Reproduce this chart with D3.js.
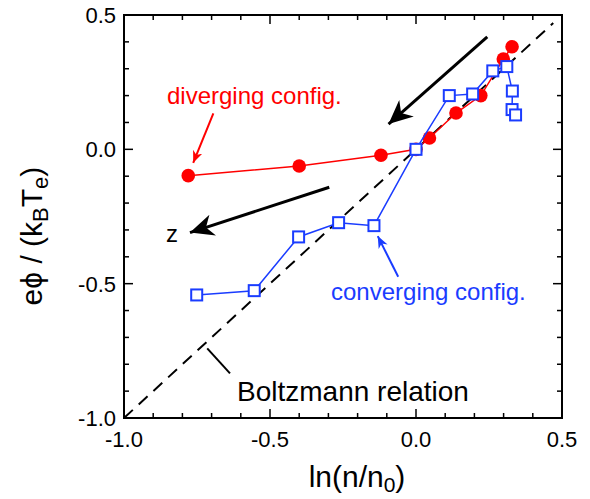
<!DOCTYPE html>
<html>
<head>
<meta charset="utf-8">
<script src="https://cdn.jsdelivr.net/npm/d3@7"></script>
<style>
  body { margin: 0; background: #fff; }
  svg text { font-family: "Liberation Sans", Arial, sans-serif; }
</style>
</head>
<body>
<script>
// diverging config. (red circles)
const divX = [-0.78, -0.40, -0.12, 0.0, 0.046, 0.137, 0.222, 0.299, 0.329];
const divY = [-0.098, -0.062, -0.022, 0.0, 0.042, 0.135, 0.200, 0.336, 0.382];
// converging config. (blue squares)
const convX = [-0.751, -0.554, -0.402, -0.265, -0.144, 0.0, 0.114, 0.194, 0.263, 0.311, 0.330, 0.329, 0.341];
const convY = [-0.542, -0.526, -0.326, -0.273, -0.284, 0.0, 0.200, 0.206, 0.292, 0.308, 0.217, 0.148, 0.128];
// Boltzmann relation, e*phi/kTe = ln(n/n0)
const boltzX = [-1.0, 0.47];
const xTicks = [-1.0, -0.5, 0.0, 0.5];
const yTicks = [-1.0, -0.5, 0.0, 0.5];

const width = 590, height = 499;
const margin = {top: 15, right: 28, bottom: 81, left: 124};

const svg = d3.select("body").append("svg")
  .attr("width", width)
  .attr("height", height);

const x = d3.scaleLinear().domain([-1.0, 0.5]).range([margin.left, width - margin.right]);
const y = d3.scaleLinear().domain([-1.0, 0.5]).range([height - margin.bottom, margin.top]);

// arrow heads
const defs = svg.append("defs");
function head(id, color, len, wid) {
  defs.append("marker")
    .attr("id", id)
    .attr("markerUnits", "userSpaceOnUse")
    .attr("viewBox", `0 ${-wid / 2} ${len} ${wid}`)
    .attr("refX", len).attr("refY", 0)
    .attr("markerWidth", len).attr("markerHeight", wid)
    .attr("orient", "auto")
    .append("path")
    .attr("d", `M0,${-wid / 2}L${len},0L0,${wid / 2}L${len * 0.3},0Z`)
    .attr("fill", color);
}
head("hk", "#000", 24, 22);
head("hr", "#f00", 12, 10);
head("hb", "#1a3cff", 12, 10);

// boltzmann dashed
svg.append("line")
  .attr("x1", x(boltzX[0])).attr("y1", y(boltzX[0]))
  .attr("x2", x(boltzX[1])).attr("y2", y(boltzX[1]))
  .attr("stroke", "#000").attr("stroke-width", 2)
  .attr("stroke-dasharray", "12,8");

// frame
svg.append("rect")
  .attr("x", margin.left).attr("y", margin.top)
  .attr("width", width - margin.left - margin.right)
  .attr("height", height - margin.top - margin.bottom)
  .attr("fill", "none").attr("stroke", "#000").attr("stroke-width", 2);

// ticks, inside on all sides
const minor = d3.range(-1.0, 0.501, 0.1);
const tickG = svg.append("g").attr("stroke", "#000").attr("stroke-width", 1.5);
minor.forEach(v => {
  const major = Math.abs(Math.round(v * 2) - v * 2) < 1e-6;
  const L = major ? 9 : 5;
  const xv = x(v), yv = y(v);
  tickG.append("line").attr("x1", xv).attr("x2", xv).attr("y1", y.range()[0]).attr("y2", y.range()[0] - L);
  tickG.append("line").attr("x1", xv).attr("x2", xv).attr("y1", y.range()[1]).attr("y2", y.range()[1] + L);
  tickG.append("line").attr("y1", yv).attr("y2", yv).attr("x1", x.range()[0]).attr("x2", x.range()[0] + L);
  tickG.append("line").attr("y1", yv).attr("y2", yv).attr("x1", x.range()[1]).attr("x2", x.range()[1] - L);
});

// tick labels
svg.append("g").selectAll("text").data(xTicks).enter().append("text")
  .attr("x", d => x(d)).attr("y", 447)
  .attr("text-anchor", "middle").attr("font-size", 22)
  .text(d => d.toFixed(1));
svg.append("g").selectAll("text").data(yTicks).enter().append("text")
  .attr("x", 116).attr("y", d => y(d) + 8)
  .attr("text-anchor", "end").attr("font-size", 22)
  .text(d => d.toFixed(1));

// axis titles
const xt = svg.append("text").attr("x", 357).attr("y", 487)
  .attr("text-anchor", "middle").attr("font-size", 30);
xt.append("tspan").text("ln(n/n");
xt.append("tspan").attr("font-size", 21).attr("dy", 5).text("0");
xt.append("tspan").attr("dy", -5).text(")");

const yt = svg.append("text").attr("transform", "translate(42,236) rotate(-90)")
  .attr("text-anchor", "middle").attr("font-size", 30);
yt.append("tspan").text("e\u03d5 / (k");
yt.append("tspan").attr("font-size", 22).attr("dy", 6).text("B");
yt.append("tspan").attr("dy", -6).text("T");
yt.append("tspan").attr("font-size", 22).attr("dy", 6).text("e");
yt.append("tspan").attr("dy", -6).text(")");

// red series
const divPts = divX.map((d, i) => [d, divY[i]]);
const convPts = convX.map((d, i) => [d, convY[i]]);
const line = d3.line().x(d => x(d[0])).y(d => y(d[1]));

svg.append("path").attr("d", line(divPts))
  .attr("fill", "none").attr("stroke", "#f00").attr("stroke-width", 1.5);
svg.append("g").selectAll("circle").data(divPts).enter().append("circle")
  .attr("cx", d => x(d[0])).attr("cy", d => y(d[1])).attr("r", 6.8)
  .attr("fill", "#f00");

// blue series
svg.append("path").attr("d", line(convPts))
  .attr("fill", "none").attr("stroke", "#1a3cff").attr("stroke-width", 1.5);
svg.append("g").selectAll("rect").data(convPts).enter().append("rect")
  .attr("x", d => x(d[0]) - 5.5).attr("y", d => y(d[1]) - 5.5)
  .attr("width", 11).attr("height", 11)
  .attr("fill", "#fff").attr("stroke", "#1a3cff").attr("stroke-width", 2);

// annotation arrows
const arrows = [
  {from: [0.244, 0.419], to: [-0.094, 0.094], color: "#000", w: 3, m: "hk"},
  {from: [-0.297, -0.141], to: [-0.774, -0.310], color: "#000", w: 3, m: "hk"},
  {from: [-0.694, 0.134], to: [-0.763, -0.050], color: "#f00", w: 2, m: "hr"},
  {from: [-0.061, -0.474], to: [-0.131, -0.323], color: "#1a3cff", w: 2, m: "hb"}
];
arrows.forEach(a => {
  svg.append("line")
    .attr("x1", x(a.from[0])).attr("y1", y(a.from[1]))
    .attr("x2", x(a.to[0])).attr("y2", y(a.to[1]))
    .attr("stroke", a.color).attr("stroke-width", a.w)
    .attr("marker-end", `url(#${a.m})`);
});
// leader for Boltzmann label
svg.append("line")
  .attr("x1", x(-0.715)).attr("y1", y(-0.741))
  .attr("x2", x(-0.637)).attr("y2", y(-0.834))
  .attr("stroke", "#000").attr("stroke-width", 2);

// labels
svg.append("text").attr("x", 167).attr("y", 104).attr("font-size", 24)
  .attr("fill", "#f00").text("diverging config.");
svg.append("text").attr("x", 331).attr("y", 300).attr("font-size", 24)
  .attr("fill", "#1a3cff").text("converging config.");
svg.append("text").attr("x", 237).attr("y", 401).attr("font-size", 28)
  .attr("fill", "#000").text("Boltzmann relation");
svg.append("text").attr("x", 166).attr("y", 242).attr("font-size", 24)
  .attr("fill", "#000").text("z");
</script>
</body>
</html>
